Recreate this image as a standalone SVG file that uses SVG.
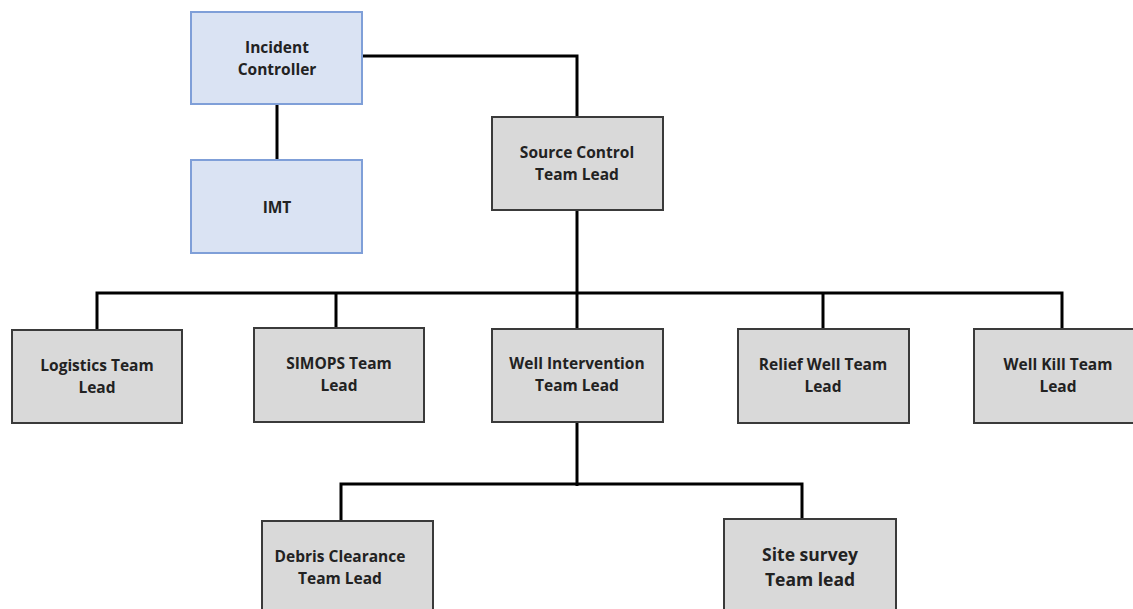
<svg xmlns="http://www.w3.org/2000/svg" width="1133" height="609" viewBox="0 0 1133 609">
<style>
.blue{fill:#dae3f3;stroke:#7f9fd8;stroke-width:2}
.gray{fill:#d9d9d9;stroke:#3a3a3a;stroke-width:2}
.t{font-family:"Open Sans","Liberation Sans",sans-serif;font-weight:bold;font-size:15.5px;fill:#222;text-anchor:middle}
.c{fill:none;stroke:#000;stroke-width:3}
</style>
<rect width="1133" height="609" fill="#fff"/>
<g id="connectors">
<path class="c" d="M277 104V160"/>
<path class="c" d="M362 56H577V117"/>
<path class="c" d="M577 210V293"/>
<path class="c" d="M97 330V293H1062V329"/>
<path class="c" d="M336 293V328"/>
<path class="c" d="M577 293V329"/>
<path class="c" d="M823 293V329"/>
<path class="c" d="M577 422V486"/>
<path class="c" d="M341 521V484H802V519"/>
</g>
<g id="incident-controller"><rect class="blue" x="191" y="12" width="171" height="92"/><text class="t" x="277" y="53">Incident</text><text class="t" x="277" y="75">Controller</text></g>
<g id="imt"><rect class="blue" x="191" y="160" width="171" height="93"/><text class="t" x="277" y="213">IMT</text></g>
<g id="source-control"><rect class="gray" x="492" y="117" width="171" height="93"/><text class="t" x="577" y="158">Source Control</text><text class="t" x="577" y="180">Team Lead</text></g>
<g id="logistics"><rect class="gray" x="12" y="330" width="170" height="93"/><text class="t" x="97" y="371">Logistics Team</text><text class="t" x="97" y="393">Lead</text></g>
<g id="simops"><rect class="gray" x="254" y="328" width="170" height="94"/><text class="t" x="339" y="369">SIMOPS Team</text><text class="t" x="339" y="391">Lead</text></g>
<g id="well-intervention"><rect class="gray" x="492" y="329" width="171" height="93"/><text class="t" x="577" y="369">Well Intervention</text><text class="t" x="577" y="391">Team Lead</text></g>
<g id="relief-well"><rect class="gray" x="738" y="329" width="171" height="94"/><text class="t" x="823" y="370">Relief Well Team</text><text class="t" x="823" y="392">Lead</text></g>
<g id="well-kill"><rect class="gray" x="974" y="329" width="171" height="94"/><text class="t" x="1058" y="370">Well Kill Team</text><text class="t" x="1058" y="392">Lead</text></g>
<g id="debris-clearance"><rect class="gray" x="262" y="521" width="171" height="100"/><text class="t" x="340" y="562">Debris Clearance</text><text class="t" x="340" y="584">Team Lead</text></g>
<g id="site-survey"><rect class="gray" x="724" y="519" width="172" height="100"/><text class="t" x="810" y="561" style="font-size:17.5px">Site survey</text><text class="t" x="810" y="586" style="font-size:17.5px">Team lead</text></g>
</svg>
